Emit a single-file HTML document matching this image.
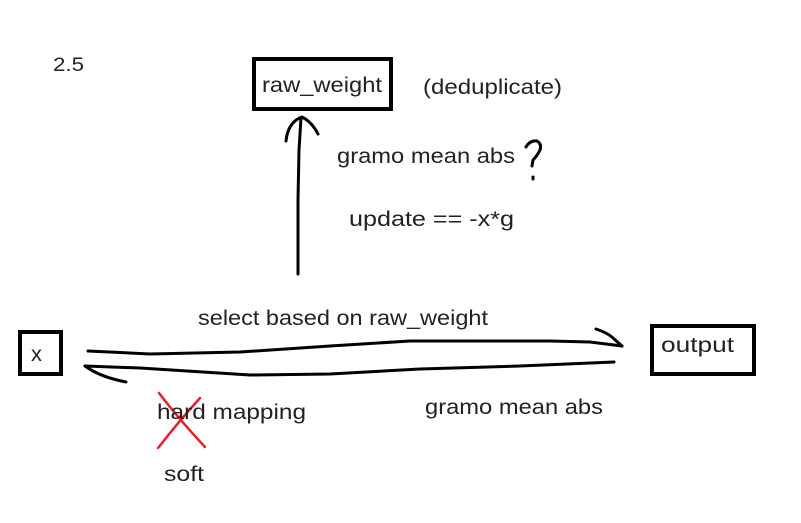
<!DOCTYPE html>
<html><head><meta charset="utf-8"><style>html,body{margin:0;padding:0;background:#fff}svg{display:block}</style></head>
<body>
<svg width="801" height="523" viewBox="0 0 801 523" xmlns="http://www.w3.org/2000/svg" font-family="Liberation Sans, DejaVu Sans, sans-serif" font-size="21" fill="#222">
<rect x="254" y="59" width="137" height="50" fill="none" stroke="#000" stroke-width="4"/>
<rect x="20" y="332" width="41" height="42" fill="none" stroke="#000" stroke-width="4"/>
<rect x="652" y="326" width="102" height="48" fill="none" stroke="#000" stroke-width="4"/>
<g fill="none" stroke="#000" stroke-width="3" stroke-linecap="round" stroke-linejoin="round">
<path d="M298 274 L298 200 L299 150 L301 118"/>
<path d="M286 141 Q288 122 302 117 Q312 122 318 134"/>
<path d="M88 351 L150 354 L240 352 L330 346 L410 341 L550 341 L590 342 L622 346"/>
<path d="M596 329 Q608 333 613 338 L622 346"/>
<path d="M85 366 L140 368 L250 375 L330 374 L420 369 L520 366 L614 362"/>
<path d="M85 366 Q100 377 126 382"/>
<path d="M526 147 Q530 140 537 141 Q542 144 540 150 Q537 156 533 160 L532 166"/>
<path d="M533 177 L533 179"/>
</g>
<g stroke="#e8202a" stroke-width="2.5" fill="none" stroke-linecap="round">
<path d="M159 393 Q178 418 205 447"/>
<path d="M200 398 Q180 420 158 448"/>
</g>
<text x="53" y="71" font-size="19" textLength="31" lengthAdjust="spacingAndGlyphs">2.5</text>
<text x="262" y="92" textLength="120" lengthAdjust="spacingAndGlyphs">raw_weight</text>
<text x="423" y="94" textLength="139" lengthAdjust="spacingAndGlyphs">(deduplicate)</text>
<text x="337" y="163" textLength="178" lengthAdjust="spacingAndGlyphs">gramo mean abs</text>
<text x="349" y="226" textLength="165" lengthAdjust="spacingAndGlyphs">update == -x*g</text>
<text x="198" y="325" textLength="290" lengthAdjust="spacingAndGlyphs">select based on raw_weight</text>
<text x="31" y="361" textLength="11" lengthAdjust="spacingAndGlyphs">x</text>
<text x="661" y="352" textLength="73" lengthAdjust="spacingAndGlyphs">output</text>
<text x="425" y="414" textLength="178" lengthAdjust="spacingAndGlyphs">gramo mean abs</text>
<text x="157" y="419" textLength="149" lengthAdjust="spacingAndGlyphs">hard mapping</text>
<text x="164" y="481" textLength="40" lengthAdjust="spacingAndGlyphs">soft</text>
</svg>
</body></html>
